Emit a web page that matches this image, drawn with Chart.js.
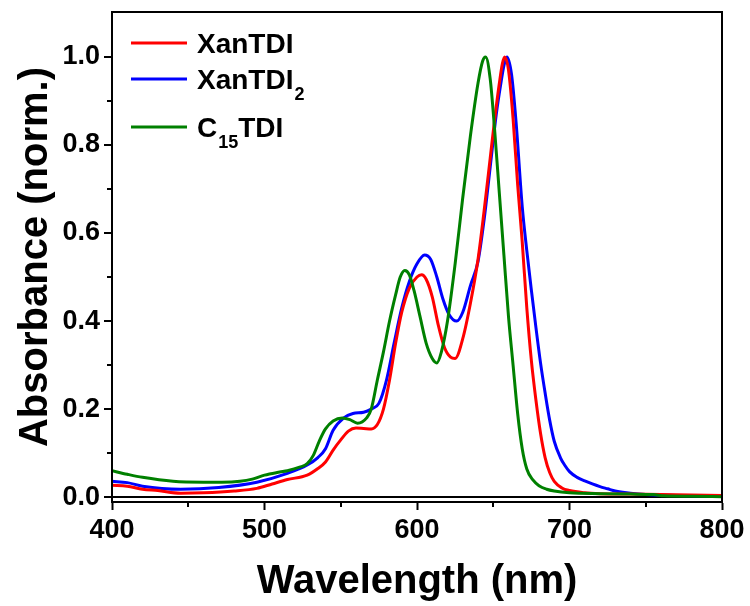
<!DOCTYPE html>
<html>
<head>
<meta charset="utf-8">
<script src="https://cdn.jsdelivr.net/npm/chart.js@4/dist/chart.umd.min.js"></script>
<style>
  html, body { margin: 0; padding: 0; background: #ffffff; }
  #wrap { width: 750px; height: 606px; }
</style>
</head>
<body>
<div id="wrap"><canvas id="c" width="750" height="606"></canvas></div>
<script>
// ---------- data ----------
const xTickValues = [400, 500, 600, 700, 800];
const yTickValues = [0.0, 0.2, 0.4, 0.6, 0.8, 1.0];
const xMinorTicks = [450, 550, 650, 750];
const yMinorTicks = [0.1, 0.3, 0.5, 0.7, 0.9];

const xTitle = "Wavelength (nm)";
const yTitle = "Absorbance (norm.)";

// legend labels: [text, subscript, text-after]
const seriesNames = ["XanTDI", "XanTDI", "C"];
const seriesSubs  = ["", "2", "15"];
const seriesTails = ["", "", "TDI"];
const seriesColors = ["#ff0000", "#0000ff", "#008000"];

// XanTDI (red)
const redNm  = [400,410,420,430,445,460,480,495,505,515,528,535,540,545,550,555,560,565,570,574,578,582,586,590,595,600,603,606,610,614,618,622,625,630,635,640,644,648,651,654,656,657.5,660,663,666,669,672,675,678,681,684,687,690,695,700,710,720,740,760,780,800];
const redAbs = [0.027,0.025,0.018,0.015,0.009,0.010,0.014,0.020,0.030,0.040,0.050,0.065,0.080,0.107,0.130,0.150,0.157,0.156,0.155,0.165,0.200,0.266,0.350,0.420,0.475,0.500,0.505,0.495,0.455,0.390,0.340,0.318,0.315,0.360,0.440,0.540,0.650,0.770,0.860,0.940,0.985,1.000,0.970,0.860,0.710,0.580,0.430,0.310,0.220,0.145,0.090,0.056,0.036,0.021,0.015,0.010,0.008,0.007,0.006,0.005,0.004];

// XanTDI2 (blue)
const blueNm  = [400,410,420,445,470,495,515,528,535,540,545,552,558,565,570,575,580,585,590,595,600,605,609,613,617,621,626,630,635,640,644,648,652,655,657,659,662,665,669,672,675,678,681,684,687,690,694,697,700,705,710,715,720,725,730,740,750,770,800];
const blueAbs = [0.036,0.033,0.025,0.018,0.022,0.034,0.054,0.073,0.090,0.110,0.152,0.180,0.190,0.193,0.200,0.213,0.266,0.350,0.430,0.490,0.530,0.550,0.540,0.500,0.450,0.415,0.400,0.420,0.480,0.535,0.630,0.750,0.870,0.940,0.980,1.000,0.960,0.850,0.660,0.560,0.470,0.385,0.305,0.237,0.175,0.127,0.090,0.072,0.058,0.045,0.037,0.030,0.024,0.019,0.014,0.009,0.006,0.004,0.002];

// C15TDI (green)
const greenNm  = [400,410,420,440,460,472,484,492,500,510,515,523,528,532,536,540,545,551,556,561,567,570,574,578,582,586,589,592,595,598,602,606,610,613,616,620,625,630,635,640,643,645,648,651,654,657,660,663,666,669,672,676,680,685,690,700,720,740,755,762,780,800];
const greenAbs = [0.060,0.052,0.045,0.036,0.034,0.034,0.036,0.041,0.050,0.057,0.060,0.068,0.076,0.095,0.128,0.155,0.173,0.180,0.176,0.168,0.180,0.200,0.266,0.330,0.400,0.460,0.500,0.515,0.505,0.470,0.410,0.350,0.315,0.305,0.330,0.400,0.530,0.680,0.820,0.940,0.990,1.000,0.950,0.830,0.690,0.550,0.410,0.300,0.190,0.110,0.064,0.039,0.026,0.018,0.014,0.010,0.008,0.007,0.006,0.003,0.002,0.001];

// ---------- build chart ----------
const FONT = "'Liberation Sans', Arial, Helvetica, sans-serif";
const toPts = (xs, ys) => xs.map((x, i) => ({ x: x, y: ys[i] }));
const seriesX = [redNm, blueNm, greenNm];
const seriesY = [redAbs, blueAbs, greenAbs];
const drawOrder = [1, 2, 0];

const datasets = seriesNames.map((name, i) => ({
  label: name + seriesSubs[i] + seriesTails[i],
  data: toPts(seriesX[i], seriesY[i]),
  borderColor: seriesColors[i],
  backgroundColor: seriesColors[i],
  borderWidth: 3,
  pointRadius: 0,
  fill: false,
  cubicInterpolationMode: 'monotone',
  order: drawOrder[i]
}));

const framePlugin = {
  id: 'frameAndExtras',
  afterDatasetsDraw(chart) {
    const ctx = chart.ctx;
    const a = chart.chartArea;
    const xs = chart.scales.x, ys = chart.scales.y;
    ctx.save();
    ctx.strokeStyle = '#000';
    ctx.lineWidth = 2;
    ctx.strokeRect(a.left, a.top, a.right - a.left, a.bottom - a.top);
    // minor ticks
    ctx.beginPath();
    xMinorTicks.forEach(v => {
      const px = Math.round(xs.getPixelForValue(v));
      ctx.moveTo(px, a.bottom);
      ctx.lineTo(px, a.bottom + 5);
    });
    yMinorTicks.forEach(v => {
      const py = Math.round(ys.getPixelForValue(v));
      ctx.moveTo(a.left, py);
      ctx.lineTo(a.left - 5, py);
    });
    ctx.stroke();
    // legend
    const lx0 = 131, lx1 = 187, tx = 197;
    const rowY = [43, 79, 127];
    seriesNames.forEach((name, i) => {
      const y = rowY[i];
      ctx.strokeStyle = seriesColors[i];
      ctx.lineWidth = 3;
      ctx.beginPath();
      ctx.moveTo(lx0, y);
      ctx.lineTo(lx1, y);
      ctx.stroke();
      ctx.fillStyle = '#000';
      ctx.textBaseline = 'alphabetic';
      ctx.textAlign = 'left';
      ctx.font = "bold 28px " + FONT;
      const base = y + 10;
      let x = tx;
      ctx.fillText(name, x, base);
      x += ctx.measureText(name).width;
      if (seriesSubs[i]) {
        ctx.font = "bold 18px " + FONT;
        ctx.fillText(seriesSubs[i], x + 1, base + 11);
        x += ctx.measureText(seriesSubs[i]).width + 1;
      }
      if (seriesTails[i]) {
        ctx.font = "bold 28px " + FONT;
        ctx.fillText(seriesTails[i], x, base);
      }
    });
    ctx.restore();
  }
};

new Chart(document.getElementById('c'), {
  type: 'line',
  data: { datasets: datasets },
  options: {
    responsive: false,
    animation: false,
    events: [],
    layout: { padding: { left: 12, right: 28, top: 12, bottom: 0 } },
    plugins: { legend: { display: false }, tooltip: { enabled: false } },
    scales: {
      x: {
        type: 'linear',
        min: 400, max: 800,
        afterBuildTicks: s => { s.ticks = xTickValues.map(v => ({ value: v })); },
        afterFit: s => { s.height = 104; s.paddingLeft = 0; s.paddingRight = 0; },
        ticks: {
          color: '#000',
          font: { family: FONT, size: 27, weight: 'bold' },
          padding: 4,
          maxRotation: 0,
          callback: v => String(v)
        },
        grid: {
          display: true,
          drawOnChartArea: false,
          tickLength: 8,
          tickWidth: 2,
          tickColor: '#000'
        },
        border: { display: true, color: '#000', width: 2 },
        title: {
          display: true,
          text: xTitle,
          color: '#000',
          font: { family: FONT, size: 40, weight: 'bold' },
          padding: { top: 0, bottom: 0 }
        }
      },
      y: {
        type: 'linear',
        min: -0.011, max: 1.102,
        afterBuildTicks: s => { s.ticks = yTickValues.map(v => ({ value: v })); },
        afterFit: s => { s.width = 100; s.paddingTop = 0; s.paddingBottom = 0; },
        ticks: {
          color: '#000',
          font: { family: FONT, size: 27, weight: 'bold' },
          padding: 4,
          callback: v => Number(v).toFixed(1)
        },
        grid: {
          display: true,
          drawOnChartArea: true,
          color: c => (c.tick && Math.abs(c.tick.value) < 1e-9) ? '#000' : 'rgba(0,0,0,0)',
          lineWidth: 2,
          tickLength: 8,
          tickWidth: 2,
          tickColor: '#000'
        },
        border: { display: true, color: '#000', width: 2 },
        title: {
          display: true,
          text: yTitle,
          color: '#000',
          font: { family: FONT, size: 40, weight: 'bold' },
          padding: { top: 0, bottom: 0 }
        }
      }
    }
  },
  plugins: [framePlugin]
});
</script>
</body>
</html>
